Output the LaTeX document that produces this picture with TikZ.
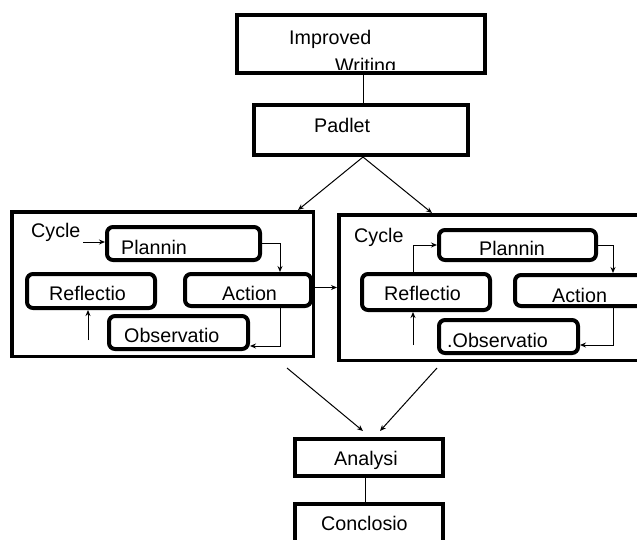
\documentclass[tikz,border=0pt]{standalone}
\usepackage{fontspec}
\setmainfont{Liberation Sans}
\usetikzlibrary{arrows.meta}
\tikzset{
  sqbox/.style={draw, line width=4pt, inner sep=0pt},
  cycbox/.style={draw, line width=3.5pt, inner sep=0pt},
  rbox/.style={draw, line width=4pt, rounded corners=6pt, inner sep=0pt},
  lbl/.style={anchor=base west, inner sep=0pt, font=\fontsize{19.7}{22}\selectfont},
  conn/.style={line width=1pt},
  arr/.style={line width=1pt, -{Stealth[length=6pt,width=5pt]}}
}
\begin{document}
\begin{tikzpicture}[x=1pt,y=-1pt]
\useasboundingbox (0,0) rectangle (637,539);
\clip (0,0) rectangle (637,539);
% top boxes
\node[sqbox, minimum width=248pt, minimum height=58pt] (iw) at (361,44) {};
\node[sqbox, minimum width=214pt, minimum height=50pt] (pad) at (361,130) {};
\node[lbl] (tiw) at (289,44) {Improved};
\begin{scope}
\clip (235,13) rectangle (487,69);
\node[lbl] (tiw2) at (335,72) {Writing};
\end{scope}
\node[lbl] (tpad) at (314,132) {Padlet};
% cycle boxes
\node[cycbox, minimum width=301.5pt, minimum height=144.5pt] (c1) at (162.5,284) {};
\node[cycbox, minimum width=339.5pt, minimum height=145.5pt] (c2) at (508.5,287.5) {};
% left cycle
\node[rbox, minimum width=153pt, minimum height=33pt] (pl1) at (183.5,243.5) {};
\node[rbox, minimum width=128pt, minimum height=34pt] (re1) at (91,291) {};
\node[rbox, minimum width=126pt, minimum height=32pt] (ac1) at (248,290) {};
\node[rbox, minimum width=139pt, minimum height=33pt] (ob1) at (178.5,332.5) {};
\node[lbl] (tcy1) at (31,237) {Cycle};
\node[lbl] (tpl1) at (121,254) {Plannin};
\node[lbl] (tre1) at (49,300) {Reflectio};
\node[lbl] (tac1) at (222,300) {Action};
\node[lbl] (tob1) at (124,342) {Observatio};
% right cycle
\node[rbox, minimum width=157pt, minimum height=30pt] (pl2) at (517.5,245) {};
\node[rbox, minimum width=128pt, minimum height=36pt] (re2) at (426,292) {};
\node[rbox, minimum width=163pt, minimum height=31pt] (ac2) at (596.5,290.5) {};
\node[rbox, minimum width=139pt, minimum height=33pt] (ob2) at (508.5,336.5) {};
\node[lbl] (tcy2) at (354,242) {Cycle};
\node[lbl] (tpl2) at (479,255) {Plannin};
\node[lbl] (tre2) at (384,300) {Reflectio};
\node[lbl] (tac2) at (552,302) {Action};
\node[lbl] (tob2) at (447,347) {.Observatio};
% bottom boxes
\node[sqbox, minimum width=148pt, minimum height=37pt] (an) at (369,457.5) {};
\node[sqbox, minimum width=148pt, minimum height=54pt] (co) at (369,531) {};
\node[lbl] (tan) at (334,465) {Analysi};
\node[lbl] (tco) at (321,530) {Conclosio};
% connectors
\draw[conn] ([xshift=2pt]iw.south) -- ([xshift=2pt]pad.north);
\draw[arr] ([xshift=2pt]pad.south) -- ([xshift=135.5pt]c1.north);
\draw[arr] ([xshift=2pt]pad.south) -- ([xshift=-76.5pt]c2.north);
\coordinate (cyc1) at (83,242);
\draw[arr] (cyc1) -- (cyc1 -| pl1.west);
\draw[arr] (pl1.east) -| ([xshift=32pt]ac1.north);
\draw[arr] ([xshift=32pt]ac1.south) |- ([yshift=-13.5pt]ob1.east);
\coordinate (up1) at (88,340);
\draw[arr] (up1) -- (up1 |- re1.south);
\draw[arr] (c2.west -| c1.east) -- (c2.west);
\draw[arr] ([xshift=-13pt]re2.north) |- (pl2.west);
\draw[arr] (pl2.east) -| ([xshift=16.5pt]ac2.north);
\draw[arr] ([xshift=16.5pt]ac2.south) |- ([yshift=-8.5pt]ob2.east);
\coordinate (up2) at (413,345);
\draw[arr] (up2) -- (up2 |- re2.south);
\coordinate (a1) at (287,368);
\coordinate (a2) at (437,368);
\draw[arr] (a1) -- ([xshift=-6pt,yshift=6pt]an.north);
\draw[arr] (a2) -- ([xshift=11pt,yshift=6pt]an.north);
\draw[conn] ([xshift=-4pt]an.south) -- ([xshift=-4pt]co.north);
\end{tikzpicture}
\end{document}
